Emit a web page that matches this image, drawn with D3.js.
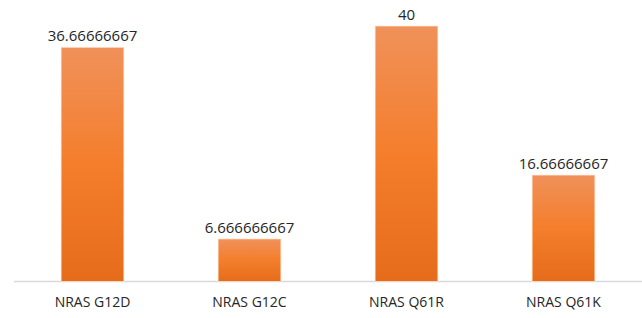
<!DOCTYPE html>
<html>
<head>
<meta charset="utf-8">
<style>
  body { margin: 0; background: #fff; }
  .label { font-family: "Open Sans", sans-serif; fill: #262626; }
</style>
</head>
<body>
<script src="https://d3js.org/d3.v7.min.js"></script>
<div id="chart"></div>
<script>
var categories = ["NRAS G12D", "NRAS G12C", "NRAS Q61R", "NRAS Q61K"];
var values = [36.66666667, 6.666666667, 40, 16.66666667];
var valueLabels = ["36.66666667", "6.666666667", "40", "16.66666667"];

var width = 642, height = 318;
var baseline = 281.5;

var svg = d3.select("#chart").append("svg")
    .attr("width", width)
    .attr("height", height);

var grad = svg.append("defs").append("linearGradient")
    .attr("id", "barGrad")
    .attr("x1", 0).attr("y1", 0).attr("x2", 0).attr("y2", 1);
grad.append("stop").attr("offset", "0%").attr("stop-color", "#F0915A");
grad.append("stop").attr("offset", "50%").attr("stop-color", "#F47E2C");
grad.append("stop").attr("offset", "100%").attr("stop-color", "#E56C1B");

var x = d3.scaleBand()
    .domain(categories)
    .range([14, 642])
    .paddingInner(0.6)
    .paddingOuter(0.3);

var y = d3.scaleLinear()
    .domain([0, 40])
    .range([baseline, 26]);

// axis line
svg.append("line")
    .attr("x1", 14).attr("x2", width)
    .attr("y1", baseline).attr("y2", baseline)
    .attr("stroke", "#d9d9d9")
    .attr("stroke-width", 1.5);

svg.selectAll(".bar")
    .data(values)
    .enter().append("rect")
    .attr("class", "bar")
    .attr("x", function(d, i) { return x(categories[i]); })
    .attr("y", function(d) { return y(d); })
    .attr("width", x.bandwidth())
    .attr("height", function(d) { return baseline - y(d); })
    .attr("fill", "url(#barGrad)")
    .attr("stroke", "rgba(255,235,220,0.7)")
    .attr("stroke-width", 1);

svg.selectAll(".val")
    .data(values)
    .enter().append("text")
    .attr("class", "label val")
    .attr("x", function(d, i) { return x(categories[i]) + x.bandwidth() / 2; })
    .attr("y", function(d) { return y(d) - 6; })
    .attr("text-anchor", "middle")
    .attr("font-size", "15px")
    .text(function(d, i) { return valueLabels[i]; });

svg.selectAll(".cat")
    .data(categories)
    .enter().append("text")
    .attr("class", "label cat")
    .attr("x", function(d) { return x(d) + x.bandwidth() / 2; })
    .attr("y", 307)
    .attr("text-anchor", "middle")
    .attr("font-size", "14px")
    .text(function(d) { return d; });
</script>
</body>
</html>
